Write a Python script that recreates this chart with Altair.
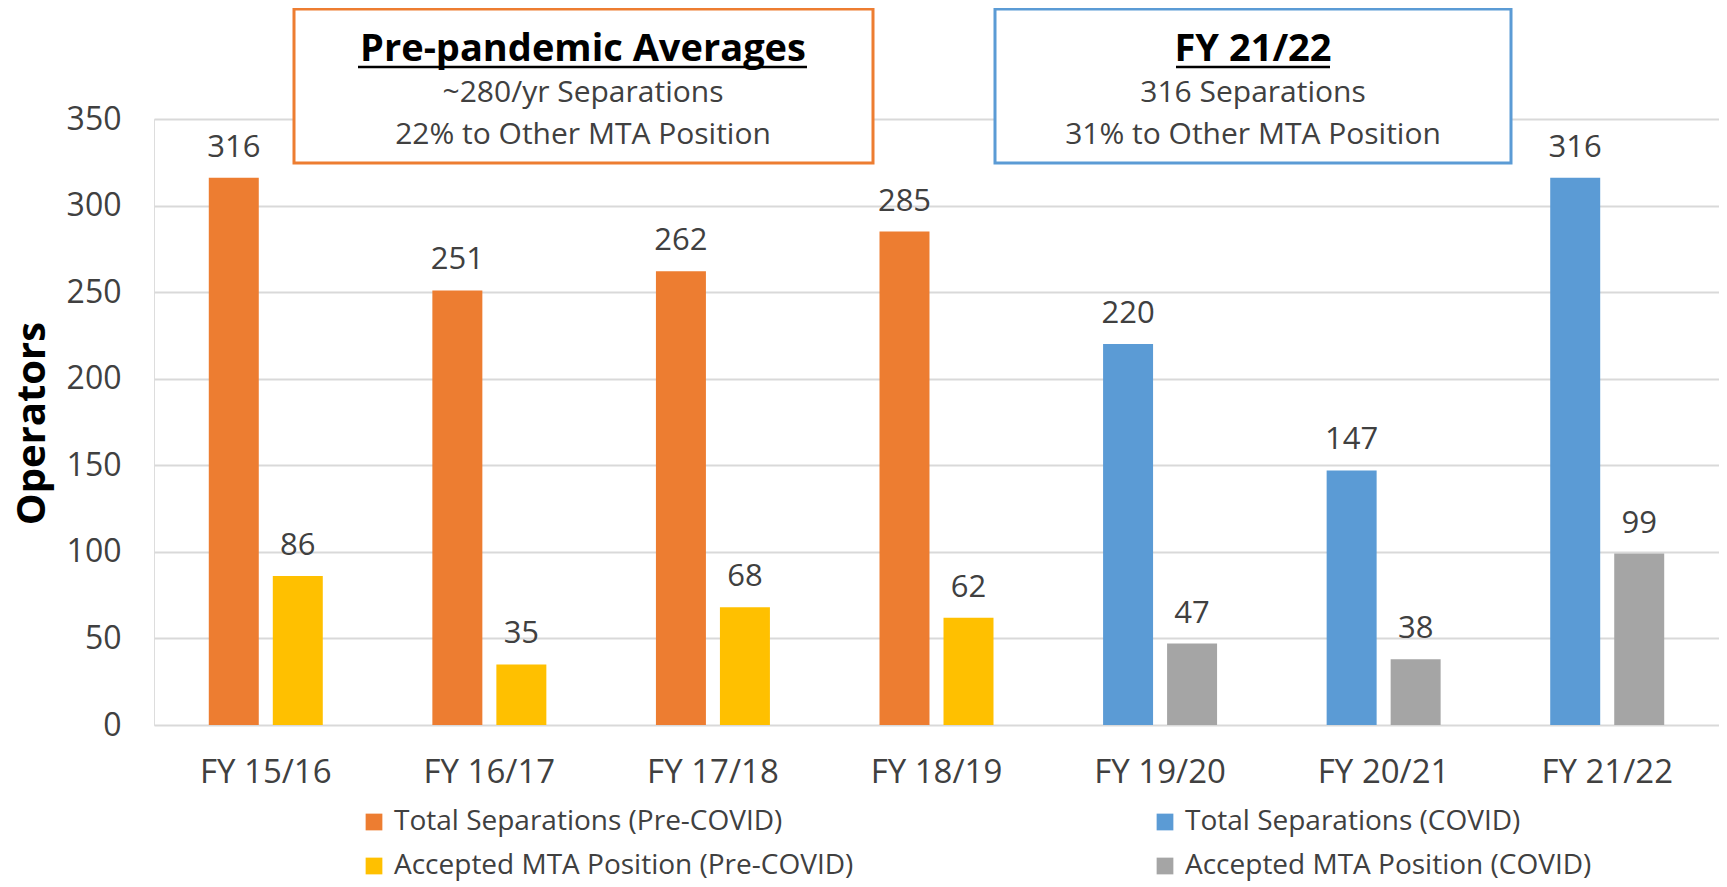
import altair as alt
import pandas as pd

years = ["FY 15/16", "FY 16/17", "FY 17/18", "FY 18/19", "FY 19/20", "FY 20/21", "FY 21/22"]
total_separations = [316, 251, 262, 285, 220, 147, 316]
accepted_mta = [86, 35, 68, 62, 47, 38, 99]
covid_flag = [False, False, False, False, True, True, True]

# legend is laid out column by column: column 1 = Pre-COVID, column 2 = COVID
series_names = [
    "Total Separations (Pre-COVID)",
    "Accepted MTA Position (Pre-COVID)",
    "Total Separations (COVID)",
    "Accepted MTA Position (COVID)",
]
series_colors = ["#ED7D31", "#FFC000", "#5B9BD5", "#A5A5A5"]

rows = []
for yr, t, a, c in zip(years, total_separations, accepted_mta, covid_flag):
    rows.append({"year": yr, "value": t, "slot": "a",
                 "series": "Total Separations (COVID)" if c else "Total Separations (Pre-COVID)"})
    rows.append({"year": yr, "value": a, "slot": "b",
                 "series": "Accepted MTA Position (COVID)" if c else "Accepted MTA Position (Pre-COVID)"})
df = pd.DataFrame(rows)

FONT = "Open Sans"
TXT = "#404040"
W, H = 1565, 606

x_enc = alt.X("year:N", sort=years, title=None,
              scale=alt.Scale(paddingInner=0, paddingOuter=0),
              axis=alt.Axis(labelAngle=0, labelFontSize=33, labelColor=TXT, labelFont=FONT,
                            ticks=False, domain=False, labelPadding=31))
xoff = alt.XOffset("slot:N", scale=alt.Scale(paddingInner=0.219, paddingOuter=0.856))
y_enc = alt.Y("value:Q", scale=alt.Scale(domain=[0, 350], nice=False),
              axis=alt.Axis(values=[0, 50, 100, 150, 200, 250, 300, 350], title="Operators",
                            titleFontSize=40, titleFont=FONT, titleFontWeight="bold", titleColor="#000000",
                            titleX=-122, titleY=304, titleAlign="center", titleBaseline="middle",
                            titleAngle=270,
                            labelFontSize=32, labelColor=TXT, labelFont=FONT, labelPadding=33,
                            ticks=False, domain=False, gridColor="#D9D9D9", gridWidth=2))

bars = alt.Chart(df).mark_bar().encode(
    x=x_enc, xOffset=xoff, y=y_enc,
    color=alt.Color("series:N", scale=alt.Scale(domain=series_names, range=series_colors),
                    legend=alt.Legend(title=None, orient="none", legendX=206, legendY=689,
                                      columns=2, columnPadding=297, rowPadding=16,
                                      symbolType="square", symbolSize=280, symbolStrokeWidth=0,
                                      labelFontSize=28, labelFont=FONT, labelColor=TXT,
                                      labelOffset=6, labelLimit=0, padding=0)),
)

labels = alt.Chart(df).mark_text(fontSize=31, font=FONT, color=TXT, dy=-21, baseline="alphabetic").encode(
    x=alt.X("year:N", sort=years), xOffset="slot:N", y="value:Q", text="value:Q"
)

one = pd.DataFrame({"k": [0]})

def box(x1, x2, color):
    return alt.Chart(one).mark_rect(fill="white", stroke=color, strokeWidth=3).encode(
        x=alt.value(x1), x2=alt.value(x2), y=alt.value(-110), y2=alt.value(44))

def txt(s, x, y, size, bold=False):
    return alt.Chart(one).mark_text(fontSize=size, font=FONT, color="#000000" if bold else TXT,
                                    fontWeight="bold" if bold else "normal",
                                    align="center", baseline="alphabetic").encode(
        x=alt.value(x), y=alt.value(y), text=alt.value(s))

def uline(x1, x2, y):
    return alt.Chart(one).mark_rule(color="#000000", strokeWidth=2.5).encode(
        x=alt.value(x1), x2=alt.value(x2), y=alt.value(y))

ann = [
    box(140, 719, "#ED7D31"),
    txt("Pre-pandemic Averages", 429, -58, 38, True),
    uline(204, 653, -52),
    txt("~280/yr Separations", 429, -17, 30),
    txt("22% to Other MTA Position", 429, 25, 30),
    box(841, 1357, "#5B9BD5"),
    txt("FY 21/22", 1099, -58, 38, True),
    uline(1022, 1176, -52),
    txt("316 Separations", 1099, -17, 30),
    txt("31% to Other MTA Position", 1099, 25, 30),
]

chart = alt.layer(bars, labels, *ann).properties(
    width=W, height=H,
    padding={"left": 146, "top": 111, "right": 0, "bottom": 160},
    autosize=alt.AutoSizeParams(type="none"),
).configure_view(stroke=None).configure(background="white")

chart.save("out.html", embed_options={"renderer": "svg", "actions": False})
